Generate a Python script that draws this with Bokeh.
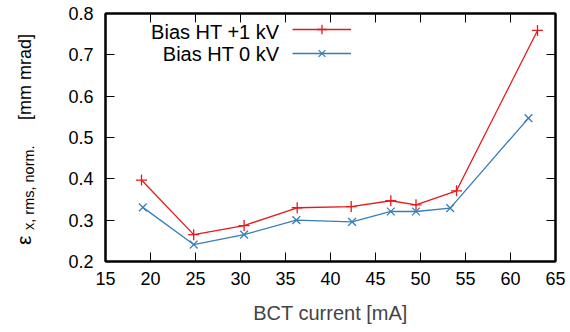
import math
from bokeh.plotting import figure
from bokeh.layouts import row
from bokeh.models import (Range1d, LinearAxis, FixedTicker, Label, Legend,
                          LegendItem, Div)
from bokeh.embed import file_html
from bokeh.resources import INLINE

# ---- data ----
x_ticks = [15, 20, 25, 30, 35, 40, 45, 50, 55, 60, 65]
y_ticks = [0.2, 0.3, 0.4, 0.5, 0.6, 0.7, 0.8]

current_1kv = [19.0, 24.8, 30.4, 36.3, 42.3, 46.7, 49.5, 54.0, 63.0]
emit_1kv = [0.397, 0.265, 0.287, 0.330, 0.333, 0.347, 0.337, 0.371, 0.759]

current_0kv = [19.15, 24.8, 30.4, 36.2, 42.4, 46.7, 49.5, 53.3, 62.0]
emit_0kv = [0.331, 0.241, 0.265, 0.300, 0.296, 0.321, 0.321, 0.329, 0.547]

label_1kv = "Bias HT +1 kV"
label_0kv = "Bias HT 0 kV"
x_label = "BCT current [mA]"
y_label_main = "ε"
y_label_sub = "x, rms, norm."
y_label_unit = "[mm mrad]"

RED = "#e41a1c"
BLUE = "#377eb8"
FONT = "Liberation Sans"

X0, X1 = 15, 65
Y0, Y1 = 0.2, 0.8
TOTAL_W, H = 570, 332
DIV_W = 40
W = TOTAL_W - DIV_W
BL, BR, BT, BB = 105 - DIV_W, 15, 13, 71
FW, FH = W - BL - BR, H - BT - BB

def px_to_data(px, py):
    """canvas pixel (page coords from top-left) -> data coords, for annotation placement"""
    return (X0 + (px - DIV_W - BL) * (X1 - X0) / FW,
            Y0 + (H - BB - py) * (Y1 - Y0) / FH)

p = figure(width=W, height=H, output_backend="svg", toolbar_location=None,
           x_range=Range1d(X0, X1), y_range=Range1d(Y0, Y1),
           x_axis_type=None, y_axis_type=None,
           min_border_left=BL, min_border_right=BR, min_border_top=BT,
           min_border_bottom=BB, background_fill_color="white",
           border_fill_color="white", margin=0)
p.xgrid.visible = False
p.ygrid.visible = False
p.outline_line_color = "black"
p.outline_line_width = 2

ax_bottom = LinearAxis(ticker=FixedTicker(ticks=x_ticks))
ax_top = LinearAxis(ticker=FixedTicker(ticks=x_ticks))
ax_left = LinearAxis(ticker=FixedTicker(ticks=y_ticks))
ax_right = LinearAxis(ticker=FixedTicker(ticks=y_ticks))
p.add_layout(ax_bottom, "below")
p.add_layout(ax_top, "above")
p.add_layout(ax_left, "left")
p.add_layout(ax_right, "right")

for ax in (ax_bottom, ax_top, ax_left, ax_right):
    ax.axis_line_color = "black"
    ax.axis_line_width = 2
    ax.major_tick_in = 9
    ax.major_tick_out = 0
    ax.major_tick_line_color = "black"
    ax.major_tick_line_width = 1
    ax.minor_tick_line_color = None
    ax.major_label_text_font = FONT
    ax.major_label_text_font_size = "18px"
    ax.major_label_text_color = "black"

ax_bottom.major_label_standoff = 10
ax_left.major_label_standoff = 12
for ax in (ax_top, ax_right):
    ax.major_label_text_font_size = "0px"
    ax.major_label_text_color = None
    ax.major_label_standoff = 0

ax_bottom.axis_label = x_label
ax_bottom.axis_label_text_font = FONT
ax_bottom.axis_label_text_font_size = "20px"
ax_bottom.axis_label_text_font_style = "normal"
ax_bottom.axis_label_standoff = 14

r_red_line = p.line(current_1kv, emit_1kv, line_color=RED, line_width=1.3)
r_red_pts = p.scatter(current_1kv, emit_1kv, marker="cross", size=11,
                      line_color=RED, line_width=1.3)
r_blue_line = p.line(current_0kv, emit_0kv, line_color=BLUE, line_width=1.3)
r_blue_pts = p.scatter(current_0kv, emit_0kv, marker="x", size=11,
                       line_color=BLUE, line_width=1.3)

# legend samples (glyphs only), texts placed to their left
legend = Legend(items=[LegendItem(label=" ", renderers=[r_red_line, r_red_pts]),
                       LegendItem(label=" ", renderers=[r_blue_line, r_blue_pts])],
                location=(187, 196), padding=0, margin=0, spacing=0,
                glyph_width=59, glyph_height=24, label_height=22, label_width=1,
                label_standoff=0, label_text_font_size="1px",
                background_fill_alpha=0, border_line_color=None)
p.add_layout(legend)

for txt, py in ((label_1kv, 31.7), (label_0kv, 53.3)):
    lx, ly = px_to_data(279, py)
    p.add_layout(Label(x=lx, y=ly, text=txt, text_font=FONT, text_font_size="20px",
                       text_align="right", text_baseline="middle", text_color="black"))

# rotated y-axis label (epsilon with subscript) as real HTML text
ylab_html = (
    '<div style="position:absolute; left:15.2px; top:245px; width:230px; height:20px; '
    'transform-origin:0 0; transform:rotate(-90deg); white-space:nowrap; '
    f'font-family:\'{FONT}\'; color:black;">'
    '<span style="position:absolute; left:0px; top:-1px; font-size:21px; line-height:20px;">'
    f'{y_label_main}</span>'
    '<span style="position:absolute; left:15px; top:4.3px; font-size:14.5px; line-height:20px;">'
    f'{y_label_sub}</span>'
    '<span style="position:absolute; left:125px; top:0px; font-size:18px; line-height:20px;">'
    f'{y_label_unit}</span>'
    '</div>'
)
ylab = Div(text=ylab_html, width=DIV_W, height=H, margin=0,
           styles={"position": "relative", "overflow": "visible"})

layout = row(ylab, p, spacing=0)

open("out.html", "w").write(file_html(layout, INLINE))
